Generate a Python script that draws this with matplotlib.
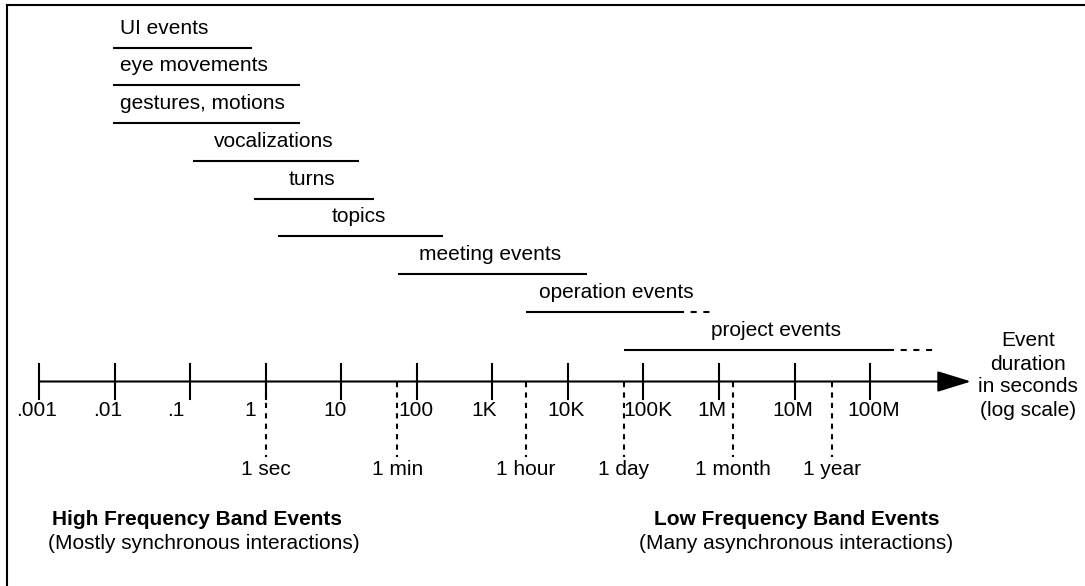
import matplotlib.pyplot as plt
from matplotlib.lines import Line2D

# Fonte parecida com Arial/Helvetica do desenho original
plt.rcParams['font.family'] = ['Liberation Sans', 'DejaVu Sans']
plt.rcParams['font.size'] = 15

# Classes de eventos: trecho sólido [início, fim] em segundos e cauda tracejada opcional
events = ['UI events', 'eye movements', 'gestures, motions', 'vocalizations', 'turns',
          'topics', 'meeting events', 'operation events', 'project events']
ev_start = [0.0095, 0.0095, 0.0095, 0.11, 0.71, 1.46, 56, 2800, 54600]
ev_end = [0.65, 2.84, 2.84, 17.2, 27.1, 224, 17700, 347000, 2.04e8]
ev_more = [None, None, None, None, None, None, None, 7.55e5, 6.8e8]
ev_left = [True, True, True, False, False, False, False, False, False]

# Eixo logarítmico
tick_values = [1e-3, 1e-2, 1e-1, 1, 1e1, 1e2, 1e3, 1e4, 1e5, 1e6, 1e7, 1e8]
tick_labels = ['.001', '.01', '.1', '1', '10', '100', '1K', '10K', '100K', '1M', '10M', '100M']
tick_label_dx = [-2, -7, -14, -15, -6, -1, -8, -2, 4, -7, -2, 4]  # deslocamento em px
axis_tip = 2.16e9

# Marcos de tempo (posições como aparecem no desenho, em segundos)
marks = ['1 sec', '1 min', '1 hour', '1 day', '1 month', '1 year']
mark_values = [1, 55.5, 2800, 54600, 1.53e6, 3.15e7]

W, H = 1085, 586
PT = 72 / 100  # pontos por pixel

fig = plt.figure(figsize=(W / 100, H / 100), dpi=100)
ax = fig.add_axes([0, 0, 1, 1])
ax.set_xscale('log')
ax.set_xlim(10 ** -3.516, 10 ** 10.843)
ax.set_ylim(H, 0)
ax.axis('off')


def px(x, y):
    return x / W, 1 - y / H


# moldura (só topo e esquerda)
for xs, ys in [((7, W), (5, 5)), ((7, 7), (5, H))]:
    fig.add_artist(Line2D([x / W for x in xs], [1 - y / H for y in ys], color='black', lw=1.5))

# barras dos eventos
row_y0, row_gap = 47.7, 37.75
for i, name in enumerate(events):
    y = row_y0 + i * row_gap
    ax.plot([ev_start[i], ev_end[i]], [y, y], color='black', lw=1.5, solid_capstyle='butt')
    right = ev_end[i]
    if ev_more[i] is not None:
        # começa por um espaço, depois traços curtos
        ax.plot([ev_end[i], ev_more[i]], [y, y], color='black', lw=1.5,
                linestyle=(2.9, (2.9, 3.2)), dash_capstyle='butt')
        right = ev_more[i]
    if ev_left[i]:
        ax.annotate(name, xy=(ev_start[i], y - 14), xytext=(7 * PT, 0),
                    textcoords='offset points', ha='left', va='baseline')
    else:
        mid = (ev_start[i] * right) ** 0.5
        ax.annotate(name, xy=(mid, y - 14), xytext=(-2 * PT, 0),
                    textcoords='offset points', ha='center', va='baseline')

# eixo com seta
axis_y = 381.5
ax.annotate('', xy=(axis_tip, axis_y), xytext=(tick_values[0], axis_y),
            arrowprops=dict(arrowstyle='-|>,head_length=2.1,head_width=0.65', mutation_scale=10,
                            color='black', lw=1.5, shrinkA=0, shrinkB=0))
for v, lab, dx in zip(tick_values, tick_labels, tick_label_dx):
    ax.plot([v, v], [364, 398.5], color='black', lw=1.5)
    ax.annotate(lab, xy=(v, 416), xytext=(dx * PT, 0), textcoords='offset points',
                ha='center', va='baseline')

# marcos de tempo tracejados
for v, lab in zip(mark_values, marks):
    ax.plot([v, v], [axis_y, 457], color='black', lw=1.5, linestyle=(0, (2.5, 2.5)))
    ax.text(v, 475, lab, ha='center', va='baseline')

# legenda do eixo à direita
for txt, yb in zip(['Event', 'duration', 'in seconds', '(log scale)'], [346.5, 369.5, 392.5, 416.5]):
    ax.text(*px(1028, yb), txt, transform=ax.transAxes, ha='center', va='baseline')

# bandas de frequência
ax.text(*px(196.7, 525), 'High Frequency Band Events', transform=ax.transAxes,
        ha='center', va='baseline', weight='bold')
ax.text(*px(204, 549), '(Mostly synchronous interactions)', transform=ax.transAxes,
        ha='center', va='baseline')
ax.text(*px(796.7, 525), 'Low Frequency Band Events', transform=ax.transAxes,
        ha='center', va='baseline', weight='bold')
ax.text(*px(796.5, 549), '(Many asynchronous interactions)', transform=ax.transAxes,
        ha='center', va='baseline')

fig.savefig('out.png', dpi=100)
